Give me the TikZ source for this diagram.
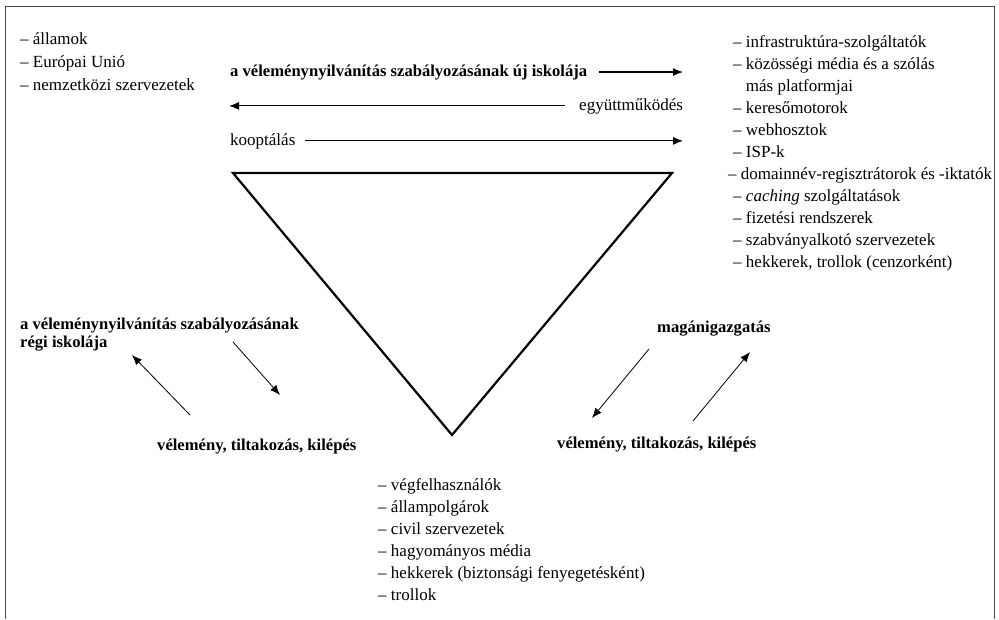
\documentclass[tikz,border=0pt]{standalone}
\usepackage{fontspec}
\setmainfont{Liberation Serif}
\usetikzlibrary{arrows.meta, positioning}

\tikzset{
  listitem/.style={anchor=base west, inner sep=0pt, font=\fontsize{17}{22}\selectfont},
  headline/.style={anchor=base west, inner sep=0pt, font=\fontsize{16.6}{18}\selectfont\bfseries},
  harrow/.style={->, line width=1.1pt},
  darrow/.style={->, line width=0.8pt},
}

\begin{document}
\begin{tikzpicture}[x=1pt, y=-1pt, >={Latex[length=10pt,width=8pt]}]
  \useasboundingbox (0,0) rectangle (999,619);
  % Frame (open at the bottom)
  \draw[line width=1pt, black!70] (5,619) -- (5,6) -- (994,6) -- (994,619);

  % Triangle
  \coordinate (TL) at (233,173);
  \coordinate (TR) at (672,173);
  \coordinate (TB) at (452,435);
  \draw[line width=2.2pt, line join=miter] (TL) -- (TR) -- (TB) -- cycle;

  % Lists
  \foreach \txt [count=\i] in {– államok, – Európai Unió, – nemzetközi szervezetek}
    \node[listitem] (S\i) at (20,{44+23*(\i-1)}) {\txt};
  \foreach \txt [count=\i] in {– infrastruktúra-szolgáltatók, – közösségi média és a szólás,
      \phantom{– }más platformjai, – keresőmotorok, – webhosztok, – ISP-k,
      \hspace*{-5pt}– domainnév-regisztrátorok és -iktatók, – \textit{caching} szolgáltatások,
      – fizetési rendszerek, – szabványalkotó szervezetek, {– hekkerek, trollok (cenzorként)}}
    \node[listitem] (P\i) at (733,{47+22*(\i-1)}) {\txt};
  \foreach \txt [count=\i] in {– végfelhasználók, – állampolgárok, – civil szervezetek,
      – hagyományos média, – hekkerek (biztonsági fenyegetésként), – trollok}
    \node[listitem] (U\i) at (378,{490+22*(\i-1)}) {\txt};

  % Labels
  \node[headline] (newschool) at (230,76) {a véleménynyilvánítás szabályozásának új iskolája};
  \node[listitem] (coop) at (579,110) {együttműködés};
  \node[listitem] (koopt) at (230,145) {kooptálás};
  \node[headline, align=left] (oldschool) at (20,347) {a véleménynyilvánítás szabályozásának\\régi iskolája};
  \node[headline] (voiceL) at (157,450) {vélemény, tiltakozás, kilépés};
  \node[headline] (private) at (657,332) {magánigazgatás};
  \node[headline] (voiceR) at (557,448) {vélemény, tiltakozás, kilépés};

  % Horizontal arrows
  \coordinate (tipR) at (683,0);
  \coordinate (tipL) at (229,0);
  \draw[harrow] ([xshift=12pt]newschool.east) -- (newschool.east -| tipR);
  \draw[harrow] ([xshift=-14pt]coop.west) -- (coop.west -| tipL);
  \draw[harrow] ([xshift=9pt]koopt.east) -- (koopt.east -| tipR);

  % Diagonal arrows
  \coordinate (oldA) at (190,415);
  \coordinate (oldB) at (132,355);
  \coordinate (oldC) at (233,342);
  \coordinate (oldD) at (280,395);
  \coordinate (privA) at (649,349);
  \coordinate (privB) at (592,418);
  \coordinate (privC) at (693,421);
  \coordinate (privD) at (750,352);
  \draw[darrow] (oldA) -- (oldB);
  \draw[darrow] (oldC) -- (oldD);
  \draw[darrow] (privA) -- (privB);
  \draw[darrow] (privC) -- (privD);
\end{tikzpicture}
\end{document}
